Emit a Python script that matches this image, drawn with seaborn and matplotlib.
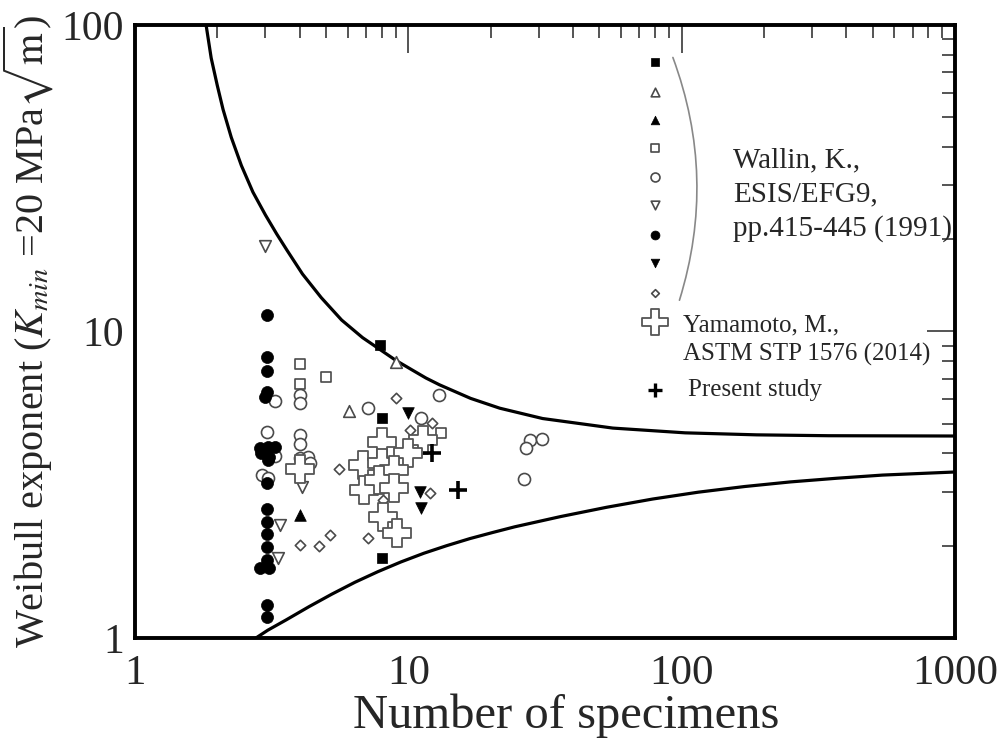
import numpy as np
import pandas as pd
import seaborn as sns
import matplotlib.pyplot as plt
from matplotlib.ticker import FuncFormatter, LogLocator

# bound curves
upper_n = [1.82, 1.9, 2.0, 2.1, 2.25, 2.45, 2.7, 3.0, 3.3, 3.6, 4.1, 4.8, 5.7, 6.8, 8.0, 9.0,
           10.3, 11.6, 13.0, 16.9, 21.6, 31, 56, 103, 188, 345, 1000]
upper_m = [100, 78, 63.5, 53, 43, 34.8, 28.5, 24.0, 20.8, 18.4, 15.4, 12.9, 10.9, 9.55, 8.65, 8.05,
           7.5, 7.05, 6.7, 6.05, 5.62, 5.2, 4.84, 4.67, 4.6, 4.57, 4.56]
lower_n = [2.77, 3.06, 3.57, 4.33, 5.25, 6.38, 7.73, 9.39, 11.4, 13.8, 16.8, 20.4, 24.5,
           36.1, 53.2, 78.3, 115, 170, 250, 369, 543, 1000]
lower_m = [1.0, 1.06, 1.145, 1.265, 1.39, 1.52, 1.645, 1.77, 1.89, 2.0, 2.11, 2.21, 2.305,
           2.49, 2.67, 2.84, 2.99, 3.12, 3.23, 3.32, 3.40, 3.48]

# Wallin (1991) data sets
sq_fill_n = [7.87, 8.0, 8.0]
sq_fill_m = [9.04, 5.22, 1.83]
tri_open_n = [9.0, 6.05]
tri_open_m = [7.95, 5.5]
tri_fill_n = [4.0]
tri_fill_m = [2.52]
sq_open_n = [4.0, 4.0, 5.0, 13.2]
sq_open_m = [7.82, 6.74, 7.1, 4.65]
circ_open_n = [3.25, 3.05, 3.25, 2.91, 3.06, 4.0, 4.0, 4.0, 4.0, 4.0, 4.29, 4.37,
               7.1, 11.1, 13.0, 27.8, 30.9, 26.9, 26.6]
circ_open_m = [5.94, 4.7, 3.93, 3.4, 3.33, 6.2, 5.84, 4.6, 4.3, 3.86, 3.9, 3.72,
               5.63, 5.22, 6.2, 4.43, 4.46, 4.17, 3.3]
tri_down_open_n = [3.0, 3.39, 3.33, 4.08]
tri_down_open_m = [19.0, 2.34, 1.82, 3.1]
circ_fill_n = [3.05, 3.05, 3.05, 3.05, 3.0, 2.86, 3.06, 3.25, 2.9, 3.1, 3.06,
               3.05, 3.05, 3.05, 3.05, 3.05, 3.05, 2.86, 3.1, 3.05, 3.05]
circ_fill_m = [11.3, 8.26, 7.43, 6.35, 6.1, 4.16, 4.2, 4.2, 4.0, 3.9, 3.8,
               3.2, 2.63, 2.39, 2.18, 1.98, 1.80, 1.69, 1.69, 1.28, 1.17]
tri_down_fill_n = [9.96, 11.0, 11.1]
tri_down_fill_m = [5.43, 3.0, 2.65]
dia_open_n = [9.0, 12.2, 10.1, 5.57, 7.1, 8.07, 12.0, 4.0, 4.71, 5.16]
dia_open_m = [6.07, 5.03, 4.77, 3.55, 2.12, 2.82, 2.97, 2.01, 2.0, 2.17]

# Yamamoto (2014)
yama_n = [8.0, 11.3, 9.96, 6.8, 8.0, 8.9, 6.9, 7.8, 8.9, 8.1, 9.1, 4.0]
yama_m = [4.36, 4.42, 4.0, 3.67, 3.72, 3.53, 3.04, 3.28, 3.09, 2.48, 2.2, 3.55]

# present study
present_n = [12.2, 15.2]
present_m = [4.0, 3.04]

sns.set_style("white")
plt.rcParams['font.family'] = ['Liberation Serif', 'DejaVu Serif']
plt.rcParams['mathtext.fontset'] = 'stix'

fig = plt.figure(figsize=(10.03, 7.46), dpi=100)
ax = fig.add_axes([0.1346, 0.1448, 0.8175, 0.8217])

sns.lineplot(x=upper_n, y=upper_m, sort=False, color='black', lw=2.3, ax=ax)
sns.lineplot(x=lower_n, y=lower_m, sort=False, color='black', lw=2.3, ax=ax)

grey = '#4a4a4a'
open_kw = dict(facecolor='white', edgecolor=grey, linewidth=1.2)
fill_kw = dict(color='black', edgecolor='black', linewidth=0.5)
series = [
    (sq_fill_n, sq_fill_m, 's', 55, fill_kw),
    (tri_open_n, tri_open_m, '^', 70, open_kw),
    (tri_fill_n, tri_fill_m, '^', 70, fill_kw),
    (sq_open_n, sq_open_m, 's', 60, open_kw),
    (circ_open_n, circ_open_m, 'o', 75, open_kw),
    (tri_down_open_n, tri_down_open_m, 'v', 70, open_kw),
    (circ_fill_n, circ_fill_m, 'o', 75, fill_kw),
    (tri_down_fill_n, tri_down_fill_m, 'v', 70, fill_kw),
    (dia_open_n, dia_open_m, 'D', 28, open_kw),
]
for xs, ys, mk, s, kw in series:
    sns.scatterplot(x=xs, y=ys, marker=mk, s=s, ax=ax, zorder=3, **kw)

sns.scatterplot(x=yama_n, y=yama_m, marker='P', s=400, facecolor='white',
                edgecolor='#555555', linewidth=1.3, ax=ax, zorder=4)
sns.scatterplot(x=present_n, y=present_m, marker='+', s=170, color='black',
                linewidth=2.6, ax=ax, zorder=5)

# legend-like key drawn in axes fraction
key_y = [0.940, 0.891, 0.845, 0.799, 0.752, 0.706, 0.657, 0.612, 0.563]
for (xs, ys, mk, s, kw), ky in zip(series, key_y):
    ax.scatter([0.634], [ky], marker=mk, s=s * 0.55, transform=ax.transAxes,
               zorder=5, clip_on=False, **kw)
ax.scatter([0.634], [0.516], marker='P', s=330, facecolor='white',
           edgecolor='#555555', linewidth=1.3, transform=ax.transAxes, zorder=5)
ax.scatter([0.634], [0.405], marker='+', s=110, color='black', linewidth=2.4,
           transform=ax.transAxes, zorder=5)
ax.annotate("", xy=(0.664, 0.551), xytext=(0.656, 0.947), xycoords='axes fraction',
            arrowprops=dict(arrowstyle='-', color='#888888', lw=1.2,
                            connectionstyle='arc3,rad=-0.17', shrinkA=0, shrinkB=0))
ax.text(0.729, 0.723, "Wallin, K.,\nESIS/EFG9,\npp.415-445 (1991)", transform=ax.transAxes,
        fontsize=21, ha='left', va='center', linespacing=1.4)
ax.text(0.668, 0.486, "Yamamoto, M.,\nASTM STP 1576 (2014)", transform=ax.transAxes,
        fontsize=18, ha='left', va='center', linespacing=1.35)
ax.text(0.674, 0.405, "Present study", transform=ax.transAxes,
        fontsize=18, ha='left', va='center')

ax.set_xscale('log')
ax.set_yscale('log')
ax.set_xlim(1, 1000)
ax.set_ylim(1, 100)
fmt = FuncFormatter(lambda v, _: f"{v:g}")
ax.xaxis.set_major_formatter(fmt)
ax.yaxis.set_major_formatter(fmt)
ax.xaxis.set_minor_locator(LogLocator(base=10, subs=np.arange(2, 10)))
ax.yaxis.set_minor_locator(LogLocator(base=10, subs=np.arange(2, 10)))
ax.tick_params(which='both', direction='in', top=True, right=True, width=1.1)
ax.tick_params(which='major', length=20, labelsize=30)
ax.tick_params(axis='x', which='major', pad=12, labelsize=31)
ax.tick_params(axis='y', which='major', pad=8)
ax.tick_params(which='minor', length=9.5, labelleft=False, labelbottom=False)
for sp in ax.spines.values():
    sp.set_linewidth(2.8)
    sp.set_color('black')

ax.set_xlabel("Number of specimens", fontsize=35, labelpad=0)
ax.xaxis.label.set_x(0.526)
ax.set_ylabel(r"Weibull exponent ($K_{min}$ =20 MPa$\sqrt{\rm m}$)", fontsize=29, labelpad=4)

fig.savefig("out.png", dpi=100)
